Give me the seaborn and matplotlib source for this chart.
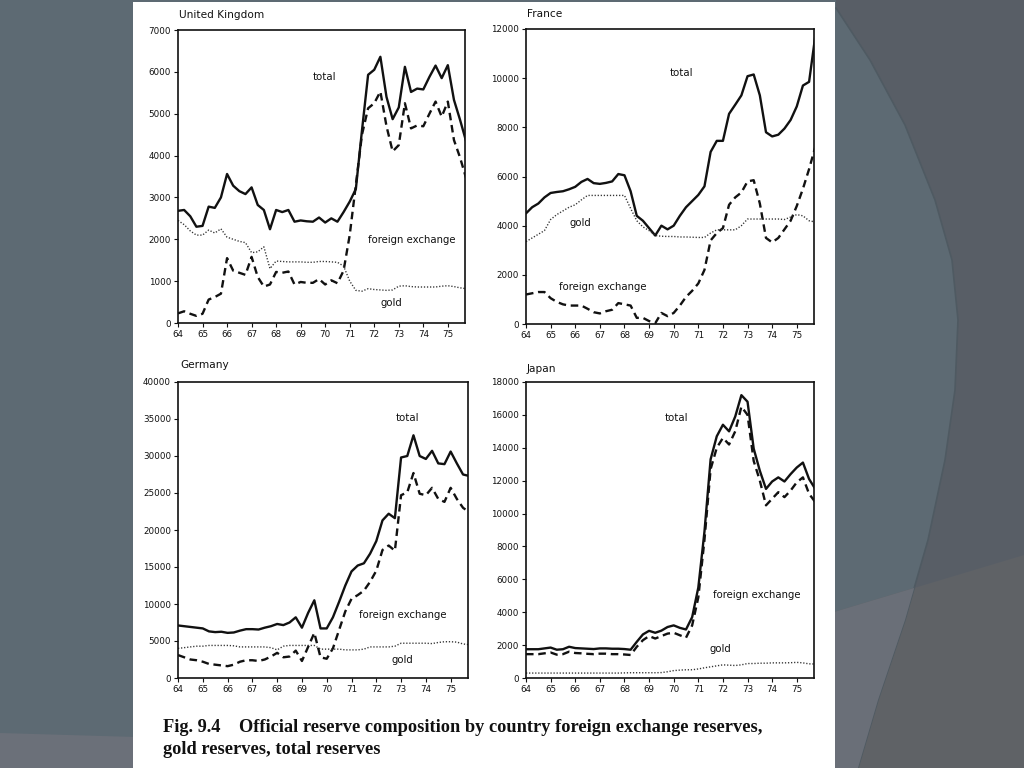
import matplotlib
matplotlib.use("Agg")
import matplotlib.pyplot as plt
import seaborn as sns
from matplotlib.patches import Polygon

# ---------------- data ----------------
quarters = [64.0, 64.25, 64.5, 64.75, 65.0, 65.25, 65.5, 65.75,
            66.0, 66.25, 66.5, 66.75, 67.0, 67.25, 67.5, 67.75,
            68.0, 68.25, 68.5, 68.75, 69.0, 69.25, 69.5, 69.75,
            70.0, 70.25, 70.5, 70.75, 71.0, 71.25, 71.5, 71.75,
            72.0, 72.25, 72.5, 72.75, 73.0, 73.25, 73.5, 73.75,
            74.0, 74.25, 74.5, 74.75, 75.0, 75.25, 75.5, 75.75]

year_ticks = [64, 65, 66, 67, 68, 69, 70, 71, 72, 73, 74, 75]
year_labels = ["64", "65", "66", "67", "68", "69", "70", "71", "72", "73", "74", "75"]

uk_total = [2680, 2700, 2550, 2300, 2320, 2780, 2750, 3000,
            3560, 3280, 3150, 3080, 3240, 2820, 2700, 2240,
            2700, 2650, 2700, 2420, 2450, 2430, 2420, 2520,
            2400, 2500, 2420, 2650, 2900, 3200, 4600, 5930,
            6050, 6360, 5400, 4870, 5150, 6120, 5520, 5600,
            5580, 5880, 6150, 5850, 6160, 5330, 4850, 4330]
uk_fx = [230, 280, 220, 170, 220, 560, 620, 700,
         1550, 1250, 1200, 1150, 1580, 1100, 870, 920,
         1220, 1200, 1230, 920, 980, 960, 960, 1050,
         920, 1020, 950, 1250, 2100, 3300, 4500, 5130,
         5250, 5530, 4700, 4100, 4250, 5250, 4650, 4720,
         4700, 5000, 5290, 4930, 5290, 4370, 3950, 3450]
uk_gold = [2450, 2350, 2200, 2100, 2100, 2220, 2150, 2250,
           2050, 2000, 1950, 1920, 1680, 1700, 1820, 1300,
           1480, 1470, 1460, 1460, 1460, 1450, 1450, 1470,
           1470, 1460, 1450, 1360, 1000, 780, 760, 820,
           800, 790, 780, 790, 880, 890, 870, 860,
           860, 860, 860, 880, 890, 870, 840, 820]

fr_total = [4500, 4750, 4900, 5150, 5330, 5370, 5400, 5480,
            5580, 5780, 5900, 5730, 5700, 5740, 5800, 6100,
            6050, 5400, 4400, 4200, 3900, 3600, 4000, 3850,
            4000, 4400, 4750, 5000, 5250, 5600, 7000, 7450,
            7450, 8550, 8920, 9300, 10080, 10150, 9300, 7800,
            7630, 7700, 7950, 8300, 8850, 9700, 9850, 11700]
fr_fx = [1200, 1250, 1300, 1300, 1050, 900, 800, 750,
         750, 750, 620, 480, 430, 520, 580, 850,
         800, 750, 250, 250, 120, 30, 450, 320,
         450, 750, 1100, 1350, 1650, 2200, 3400, 3700,
         3900, 4850, 5150, 5350, 5800, 5850, 4900, 3500,
         3320, 3500, 3850, 4200, 4800, 5500, 6300, 7200]
fr_gold = [3350, 3500, 3650, 3800, 4250, 4450, 4600, 4750,
           4850, 5050, 5230, 5230, 5230, 5230, 5230, 5230,
           5230, 4700, 4200, 3950, 3800, 3600, 3570, 3560,
           3560, 3540, 3540, 3530, 3520, 3520, 3700, 3830,
           3830, 3830, 3830, 4000, 4270, 4270, 4270, 4270,
           4270, 4270, 4250, 4350, 4450, 4400, 4200, 4150]

de_total = [7100, 7000, 6900, 6800, 6700, 6300, 6200, 6250,
            6100, 6150, 6400, 6600, 6600, 6550, 6800, 7000,
            7300, 7150, 7500, 8200, 6800, 8800, 10500, 6700,
            6700, 8200, 10300, 12500, 14400, 15200, 15500, 16800,
            18500, 21300, 22200, 21600, 29800, 30000, 32800, 30000,
            29600, 30700, 29000, 28900, 30600, 29000, 27500, 27300]
de_fx = [3100, 2800, 2500, 2400, 2200, 1900, 1800, 1700,
         1600, 1800, 2200, 2400, 2400, 2300, 2500, 2900,
         3400, 2800, 2900, 3700, 2300, 4200, 6100, 2800,
         2600, 4000, 6500, 9000, 10700, 11200, 11800, 13000,
         14500, 17300, 17900, 17200, 24700, 25100, 27700, 24900,
         24700, 25700, 24200, 23800, 25700, 24200, 23000, 22400]
de_gold = [4000, 4100, 4200, 4300, 4300, 4400, 4400, 4400,
           4400, 4350, 4200, 4200, 4200, 4200, 4200, 4100,
           3800, 4300, 4400, 4400, 4400, 4400, 4400, 3900,
           3900, 3900, 3900, 3800, 3800, 3800, 3900, 4200,
           4200, 4200, 4200, 4300, 4700, 4700, 4700, 4700,
           4700, 4650, 4800, 4900, 4900, 4850, 4600, 4500]

jp_total = [1750, 1750, 1750, 1800, 1850, 1720, 1750, 1900,
            1820, 1800, 1780, 1760, 1800, 1800, 1780, 1780,
            1760, 1720, 2200, 2650, 2870, 2750, 2880, 3100,
            3200, 3050, 2950, 3700, 5500, 8900, 13300, 14700,
            15400, 15000, 15900, 17200, 16800, 13950, 12600, 11500,
            11950, 12200, 11950, 12400, 12800, 13100, 12100, 11500]
jp_fx = [1450, 1450, 1450, 1500, 1550, 1420, 1450, 1600,
         1520, 1500, 1470, 1450, 1480, 1480, 1450, 1450,
         1430, 1400, 1900, 2300, 2550, 2400, 2550, 2700,
         2750, 2600, 2450, 3200, 4900, 8400, 12700, 14000,
         14600, 14200, 15000, 16500, 16000, 13200, 12000, 10500,
         10900, 11300, 11000, 11400, 11900, 12200, 11200, 10700]
jp_gold = [300, 300, 300, 300, 300, 300, 300, 300,
           300, 300, 300, 300, 300, 300, 300, 300,
           310, 320, 320, 320, 320, 320, 330, 380,
           450, 480, 500, 500, 550, 620, 680, 740,
           800, 780, 760, 800, 880, 880, 900, 900,
           920, 920, 920, 930, 950, 920, 860, 850]

countries = ["United Kingdom", "France", "Germany", "Japan"]
y_max = [7000, 12000, 40000, 18000]
y_step = [1000, 2000, 5000, 2000]
caption_1 = "Fig. 9.4    Official reserve composition by country foreign exchange reserves,"
caption_2 = "gold reserves, total reserves"

# ---------------- figure ----------------
sns.set_theme(style="ticks")
plt.rcParams["font.family"] = ["DejaVu Sans"]

W, H = 1024, 768
fig = plt.figure(figsize=(W / 100, H / 100), dpi=100)
fig.patch.set_facecolor("#585e66")


def fp(x, y):
    return (x / W, 1 - y / H)


def add_poly(pts, color, z, clip=None):
    p = Polygon([fp(*q) for q in pts], closed=True, transform=fig.transFigure,
                facecolor=color, edgecolor="none", zorder=z)
    fig.add_artist(p)
    if clip is not None:
        p.set_clip_path(clip)
    return p


# slide background
add_poly([(0, 0), (836, 0), (836, 768), (0, 768)], "#5d6a73", -20)
arc = [(834, 0), (836, 8), (870, 60), (905, 125), (935, 200), (952, 260), (958, 320),
       (955, 390), (945, 460), (928, 540), (905, 620), (878, 700), (858, 768), (834, 768)]
circ = add_poly(arc, "#5d6a73", -19)
fig.add_artist(plt.Line2D([fp(*q)[0] for q in arc[1:-1]], [fp(*q)[1] for q in arc[1:-1]],
                          transform=fig.transFigure, color="#4f5a62", lw=1.2, zorder=-17))
add_poly([(834, 612), (1024, 555), (1024, 768), (834, 768)], "#5f6266", -18)
add_poly([(834, 612), (1024, 555), (1024, 768), (834, 768)], "#6a6f78", -17, clip=circ)
add_poly([(0, 733), (136, 737), (136, 768), (0, 768)], "#6b7079", -17)
# white page
add_poly([(133, 2), (835, 2), (835, 768), (133, 768)], "white", -10)

# axes rectangles in pixel coords (left, top, right, bottom)
boxes = [(178, 30, 465, 323), (526, 29, 814, 324),
         (178, 382, 468, 678), (526, 382, 814, 678)]
title_pos = [(179, 15), (527, 14), (180, 365), (527, 369)]
series = [(uk_total, uk_fx, uk_gold), (fr_total, fr_fx, fr_gold),
          (de_total, de_fx, de_gold), (jp_total, jp_fx, jp_gold)]
label_pos = [
    [(69.98, 5880), (73.52, 1990), (72.7, 485)],
    [(70.3, 10220), (67.12, 1520), (66.19, 4120)],
    [(73.27, 35200), (73.07, 8500), (73.07, 2400)],
    [(70.13, 15830), (73.36, 5070), (71.9, 1780)],
]

for i, name in enumerate(countries):
    l, t, r, b = boxes[i]
    ax = fig.add_axes([l / W, 1 - b / H, (r - l) / W, (b - t) / H])
    ax.set_facecolor("white")
    tot, fx, gold = series[i]
    sns.lineplot(x=quarters, y=tot, ax=ax, color="#111111", linewidth=1.7,
                 linestyle="-")
    sns.lineplot(x=quarters, y=fx, ax=ax, color="#111111", linewidth=1.7,
                 linestyle=(0, (3.2, 2.0)))
    sns.lineplot(x=quarters, y=gold, ax=ax, color="#333333", linewidth=1.0,
                 linestyle=(0, (0.9, 1.3)))
    ax.set_xlim(64, 75.7)
    ax.set_ylim(0, y_max[i])
    ax.set_xticks(year_ticks)
    ax.set_xticklabels(year_labels)
    yt = list(range(0, y_max[i] + 1, y_step[i]))
    ax.set_yticks(yt)
    ax.set_yticklabels([str(v) for v in yt])
    ax.tick_params(direction="out", length=3, width=0.8, labelsize=6.3,
                   pad=2, colors="#111111")
    for s in ax.spines.values():
        s.set_linewidth(1.2)
        s.set_color("#111111")
    ax.set_xlabel("")
    ax.set_ylabel("")
    (tx, ty), (fxx, fxy), (gx, gy) = label_pos[i]
    ax.text(tx, ty, "total", ha="center", va="center", fontsize=7.3, color="#111111")
    ax.text(fxx, fxy, "foreign exchange", ha="center", va="center", fontsize=7.3,
            color="#111111")
    ax.text(gx, gy, "gold", ha="center", va="center", fontsize=7.3, color="#111111")
    px, py = title_pos[i]
    fig.text(*fp(px, py), name, ha="left", va="center", fontsize=7.6, color="#111111")

fig.text(*fp(163, 728), caption_1, ha="left", va="center", fontsize=13.2,
         fontweight="bold", family=["Liberation Serif"], color="#111111")
fig.text(*fp(163, 749), caption_2, ha="left", va="center", fontsize=13.2,
         fontweight="bold", family=["Liberation Serif"], color="#111111")

fig.savefig("out.png", dpi=100, facecolor=fig.get_facecolor())
